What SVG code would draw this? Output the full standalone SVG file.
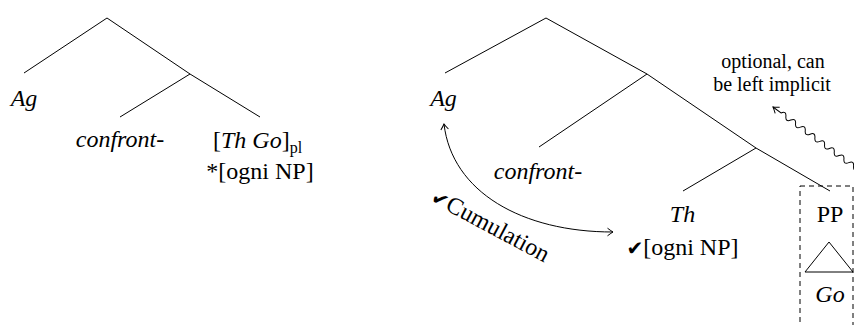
<svg xmlns="http://www.w3.org/2000/svg" width="854" height="325" viewBox="0 0 854 325" font-family="'Liberation Serif', 'Times New Roman', serif">
  <style>
    text { font-size: 24px; fill: #000; }
    .s { font-size: 20px; }
    .i { font-style: italic; }
    .ck { font-family: 'DejaVu Sans', sans-serif; font-size: 20px; }
    .ln { stroke: #000; stroke-width: 1; fill: none; }
    .dash { stroke: #000; stroke-width: 1; fill: none; stroke-dasharray: 5 4; }
  </style>
  <defs>
    <marker id="to" viewBox="-7 -5 9 10" refX="0" refY="0" markerWidth="9" markerHeight="10" markerUnits="userSpaceOnUse" orient="auto-start-reverse">
      <path d="M-5.5,-3.8 Q-1.5,-0.8 0,0 Q-1.5,0.8 -5.5,3.8" fill="none" stroke="#000" stroke-width="1"/>
    </marker>
  </defs>

  <g id="connectors">
    <!-- left tree: branches -->
    <path class="ln" d="M24,73 L107,18 L190,74 L260,117"/>
    <path class="ln" d="M120,117 L190,74"/>

    <!-- right tree: branches -->
    <path class="ln" d="M445,73 L546,18 L647,74 L756,148 L830,191"/>
    <path class="ln" d="M539,147 L647,74"/>
    <path class="ln" d="M683,191 L756,148"/>

    <!-- cumulation relation between Ag and Th -->
    <path class="ln" d="M444,124 C452,192 522,232 613,232" marker-start="url(#to)" marker-end="url(#to)"/>

    <!-- squiggly pointer to the optional PP -->
    <path class="ln" transform="translate(773,107) rotate(36.3)" marker-start="url(#to)"
          d="M0,0 L10,0 q3,-5 6,0 q3,5 6,0 q3,-5 6,0 q3,5 6,0 q3,-5 6,0 q3,5 6,0 q3,-5 6,0 q3,5 6,0 q3,-5 6,0 q3,5 6,0 q3,-5 6,0 q3,5 6,0 q3,-5 6,0 q3,5 6,0 q3,-5 6,0 q3,5 6,0"/>
  </g>

  <!-- left tree: leaves -->
  <g id="ag-left"><text class="i" x="24" y="106" text-anchor="middle">Ag</text></g>
  <g id="confront-left"><text class="i" x="120" y="147" text-anchor="middle">confront-</text></g>
  <g id="thgo-left">
    <text x="213" y="148">[<tspan class="i">Th Go</tspan>]<tspan font-size="16" dy="5">pl</tspan></text>
    <text x="260" y="179" text-anchor="middle">*[ogni NP]</text>
  </g>

  <!-- right tree: leaves -->
  <g id="ag-right"><text class="i" x="443.5" y="106" text-anchor="middle">Ag</text></g>
  <g id="confront-right"><text class="i" x="538" y="179" text-anchor="middle">confront-</text></g>
  <g id="th-right">
    <text class="i" x="682.5" y="222" text-anchor="middle">Th</text>
    <text x="682.5" y="255" text-anchor="middle"><tspan class="ck">✔</tspan>[ogni NP]</text>
  </g>
  <g id="pp">
    <rect class="dash" x="800" y="186" width="53" height="150"/>
    <text x="830" y="222" text-anchor="middle">PP</text>
    <path class="ln" d="M829,242 L805,272 L853,272 Z"/>
    <text class="i" x="830" y="302" text-anchor="middle">Go</text>
  </g>

  <!-- annotations -->
  <g id="optional-note">
    <text class="s" x="773" y="68" text-anchor="middle">optional, can</text>
    <text class="s" x="772" y="91" text-anchor="middle">be left implicit</text>
  </g>
  <g id="cumulation-label">
    <text font-size="22" transform="translate(487,232) rotate(28)" text-anchor="middle"><tspan class="ck" font-size="17">✔</tspan>Cumulation</text>
  </g>
</svg>
